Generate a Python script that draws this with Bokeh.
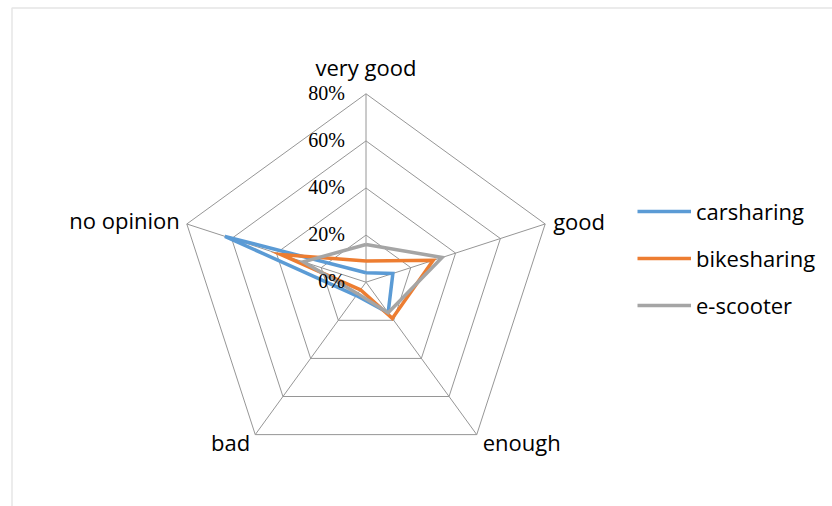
import numpy as np
from bokeh.plotting import figure
from bokeh.models import Range1d, Legend, LegendItem, BoxAnnotation
from bokeh.core.properties import value
from bokeh.embed import file_html
from bokeh.resources import INLINE

# ---- data ----
categories = ["very good", "good", "enough", "bad", "no opinion"]
carsharing = [4, 12, 16, 7, 63]
bikesharing = [9, 30, 19, 4, 38]
escooter = [16, 34, 16, 6, 28]
series_names = ["carsharing", "bikesharing", "e-scooter"]
tick_values = [0, 20, 40, 60, 80]
tick_labels = ["0%", "20%", "40%", "60%", "80%"]

# ---- layout ----
W, H = 832, 506
CX, CY = 365.5, 281.7          # pixel position of the radar centre
S = 188.4 / 80                 # pixels per percent
RMAX = 80

p = figure(width=W, height=H, output_backend="svg", toolbar_location=None,
           x_range=Range1d(-CX / S, (W - CX) / S),
           y_range=Range1d(-(H - CY) / S, CY / S),
           x_axis_type=None, y_axis_type=None,
           min_border=0, min_border_left=0, min_border_right=0,
           min_border_top=0, min_border_bottom=0)
p.outline_line_color = None
p.background_fill_color = "white"
p.border_fill_color = "white"

# chart-area border (top and left edges visible)
p.add_layout(BoxAnnotation(left=(11.5 - CX) / S, top=(CY - 7.5) / S,
                           right=(W - CX) / S + 50, bottom=-(H - CY) / S - 50,
                           fill_alpha=0, line_color="#a8a8a8", line_width=1.5))

n = len(categories)
ang = np.deg2rad(90 - 360 / n * np.arange(n))
cs, sn = np.cos(ang), np.sin(ang)

grid_col = "#969696"
# spokes
p.segment(x0=0, y0=0, x1=RMAX * cs, y1=RMAX * sn, line_color=grid_col, line_width=1)
# rings
for r in tick_values[1:]:
    xs = list(r * cs) + [r * cs[0]]
    ys = list(r * sn) + [r * sn[0]]
    p.line(xs, ys, line_color=grid_col, line_width=1)

# series
colors = ["#5B9BD5", "#ED7D31", "#A5A5A5"]
renderers = []
for vals, col in zip([carsharing, bikesharing, escooter], colors):
    v = np.array(vals, dtype=float)
    xs = list(v * cs) + [v[0] * cs[0]]
    ys = list(v * sn) + [v[0] * sn[0]]
    r = p.line(xs, ys, line_color=col, line_width=3.5, line_join="miter")
    renderers.append(r)

# tick labels
for tv, tl in zip(tick_values, tick_labels):
    p.text(x=[0], y=[tv], text=[tl], x_offset=-21, y_offset=-1,
           text_align="right", text_baseline="alphabetic",
           text_font=value("Liberation Serif"), text_font_size="20px",
           text_color="#000000")

# category labels
label_style = {
    "very good": dict(align="center", dx=0, dy=-27),
    "good": dict(align="left", dx=8, dy=-3),
    "enough": dict(align="left", dx=6, dy=7),
    "bad": dict(align="right", dx=-5, dy=7),
    "no opinion": dict(align="right", dx=-7, dy=-4),
}
for i, cat in enumerate(categories):
    st = label_style[cat]
    p.text(x=[RMAX * cs[i]], y=[RMAX * sn[i]], text=[cat],
           x_offset=st["dx"], y_offset=st["dy"],
           text_align=st["align"], text_baseline="alphabetic",
           text_font=value("Open Sans"), text_font_size="22px",
           text_color="#000000")

legend = Legend(items=[LegendItem(label=nm, renderers=[r]) for nm, r in zip(series_names, renderers)],
                location=(637, 186), orientation="vertical",
                padding=0, margin=0, spacing=17,
                glyph_width=54, glyph_height=30, label_height=30, label_standoff=5,
                label_text_font="Open Sans", label_text_font_size="22px",
                label_text_color="#000000",
                border_line_color=None, background_fill_alpha=0)
p.add_layout(legend)

open("out.html", "w").write(file_html(p, INLINE))
